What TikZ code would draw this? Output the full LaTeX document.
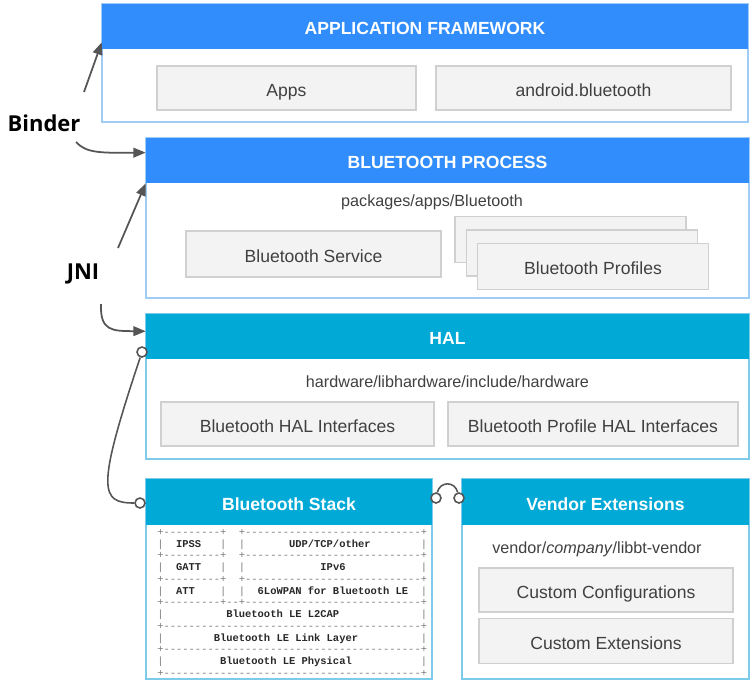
\documentclass[tikz,border=0pt]{standalone}
\usepackage{fontspec}
\setmainfont{Liberation Sans}
\setmonofont{Liberation Mono}
\newfontfamily\lblfont{Open Sans}
\usetikzlibrary{arrows.meta,positioning}

\definecolor{appblue}{RGB}{48,141,251}
\definecolor{halcyan}{RGB}{0,169,214}
\definecolor{bordblue}{RGB}{160,205,245}
\definecolor{bordcyan}{RGB}{125,203,232}
\definecolor{boxfill}{RGB}{243,243,243}
\definecolor{boxline}{RGB}{208,208,208}
\definecolor{boxtext}{RGB}{64,64,64}
\definecolor{linegray}{RGB}{85,85,85}
\definecolor{tblline}{RGB}{125,125,125}
\definecolor{tbltext}{RGB}{40,40,40}

\tikzset{
    layer/.style={draw=bordblue, fill=white, line width=0.8pt, inner sep=0pt},
    hdr/.style={fill=appblue, text=white, inner sep=0pt, text height=9.2pt, text depth=0pt, font=\bfseries\fontsize{10}{12}\selectfont},
    inbox/.style={draw=boxline, fill=boxfill, text=boxtext, line width=0.7pt, inner sep=0pt, text height=9.3pt, text depth=0pt, font=\fontsize{10}{12}\selectfont},
    pathtxt/.style={text=boxtext, inner sep=0pt, font=\fontsize{9.2}{11}\selectfont},
    conn/.style={circle, draw=linegray, fill=white, line width=0.9pt, minimum size=0.2cm, inner sep=0pt},
    arr/.style={draw=linegray, line width=1pt, -{Triangle[length=7pt,width=5.5pt]}},
    wire/.style={draw=linegray, line width=0.9pt},
    lbl/.style={inner sep=0pt, text=black, font=\lblfont\bfseries\fontsize{12.5}{14}\selectfont},
    stacktbl/.style={inner sep=0pt, text=tblline, align=left, font=\ttfamily\fontsize{5.95}{6.69}\selectfont},
}
\newcommand\tw[1]{\textbf{\color{tbltext}#1}}

\begin{document}
\begin{tikzpicture}[x=0.02cm, y=-0.02cm]
    \useasboundingbox (0,0) rectangle (751,681);

    % application framework
    \node[layer, minimum width=12.92cm, minimum height=2.36cm] (app) at (425,63) {};
    \node[hdr, minimum width=12.92cm, minimum height=0.9cm] (apphdr) at (425,26.5) {APPLICATION FRAMEWORK};
    \node[inbox, minimum width=5.18cm, minimum height=0.88cm] (apps) at (286.5,88) {Apps};
    \node[inbox, minimum width=5.9cm, minimum height=0.88cm] (abt) at (583.5,88) {android.bluetooth};

    % bluetooth process
    \node[layer, minimum width=12.06cm, minimum height=3.2cm] (proc) at (447.5,218) {};
    \node[hdr, minimum width=12.06cm, minimum height=0.9cm] (prochdr) at (447.5,160.5) {BLUETOOTH PROCESS};
    \node[pathtxt] (ppath) at (432,202) {packages/apps/Bluetooth};
    \node[inbox, minimum width=5.1cm, minimum height=0.92cm] (bts) at (313.5,254) {Bluetooth Service};
    \node[inbox, minimum width=4.62cm, minimum height=0.92cm] (prof3) at (570.5,239.5) {};
    \node[inbox, minimum width=4.62cm, minimum height=0.92cm] (prof2) at (582,253) {};
    \node[inbox, minimum width=4.62cm, minimum height=0.92cm] (prof1) at (593,266.5) {Bluetooth Profiles};

    % hal
    \node[layer, draw=bordcyan, minimum width=12.06cm, minimum height=2.9cm] (hal) at (447.5,386.5) {};
    \node[hdr, fill=halcyan, minimum width=12.06cm, minimum height=0.9cm] (halhdr) at (447.5,336.5) {HAL};
    \node[pathtxt] (hpath) at (447.5,381.5) {hardware/libhardware/include/hardware};
    \node[inbox, minimum width=5.46cm, minimum height=0.88cm] (hali) at (297.5,424) {Bluetooth HAL Interfaces};
    \node[inbox, minimum width=5.8cm, minimum height=0.88cm] (phali) at (593,424) {Bluetooth Profile HAL Interfaces};

    % stack
    \node[layer, draw=bordcyan, minimum width=5.72cm, minimum height=4cm] (stack) at (289,579) {};
    \node[hdr, fill=halcyan, minimum width=5.72cm, minimum height=0.92cm] (stackhdr) at (289,502) {Bluetooth Stack};
    \node[stacktbl, anchor=north west] (tbl) at (157,529) {%
+---------+~~+----------------------------+\\
|~~\tw{IPSS}~~~|~~|~~~~~~~\tw{UDP/TCP/other}~~~~~~~~|\\
+---------+~~+----------------------------+\\
|~~\tw{GATT}~~~|~~|~~~~~~~~~~~~\tw{IPv6}~~~~~~~~~~~~|\\
+---------+~~+----------------------------+\\
|~~\tw{ATT}~~~~|~~|~~\tw{6LoWPAN for Bluetooth LE}~~|\\
+---------+--+----------------------------+\\
|~~~~~~~~~~\tw{Bluetooth LE L2CAP}~~~~~~~~~~~~~|\\
+-----------------------------------------+\\
|~~~~~~~~\tw{Bluetooth LE Link Layer}~~~~~~~~~~|\\
+-----------------------------------------+\\
|~~~~~~~~~\tw{Bluetooth LE Physical}~~~~~~~~~~~|\\
+-----------------------------------------+};

    % vendor
    \node[layer, draw=bordcyan, minimum width=5.74cm, minimum height=4cm] (vend) at (605.5,579) {};
    \node[hdr, fill=halcyan, minimum width=5.74cm, minimum height=0.92cm] (vendhdr) at (605.5,502) {Vendor Extensions};
    \node[pathtxt] (vpath) at (597,549.5) {vendor/\textit{company}/libbt-vendor};
    \node[inbox, minimum width=5.08cm, minimum height=0.88cm] (ccfg) at (606,590) {Custom Configurations};
    \node[inbox, minimum width=5.08cm, minimum height=0.9cm] (cext) at (606,641) {Custom Extensions};

    % left labels and arrows
    \node[lbl] (binder) at (44,123) {Binder};
    \node[lbl] (jni) at (83,274) {JNI};
    \coordinate (b1) at (84,92);
    \coordinate (b2) at (76,142);
    \coordinate (j1) at (118,248);
    \coordinate (j2) at (101,304);
    \draw[arr] (b1) -- ([yshift=4pt]apphdr.south west);
    \draw[arr] (b2) .. controls (86,153) and (100,153) .. ([yshift=4.5pt]prochdr.west);
    \draw[arr] (j1) -- (prochdr.south west);
    \draw[arr] (j2) .. controls (100,331) and (112,331) .. ([yshift=3pt]halhdr.west);

    % sockets
    \node[conn] (c1) at (142,352) {};
    \node[conn] (c2) at (140,503) {};
    \node[conn] (c3) at (436,498) {};
    \node[conn] (c4) at (459,498) {};
    \draw[wire] (c1) .. controls (96,490) and (100,503) .. (c2);
    \draw[wire] (c3) .. controls (440,481) and (455,481) .. (c4);
\end{tikzpicture}
\end{document}
